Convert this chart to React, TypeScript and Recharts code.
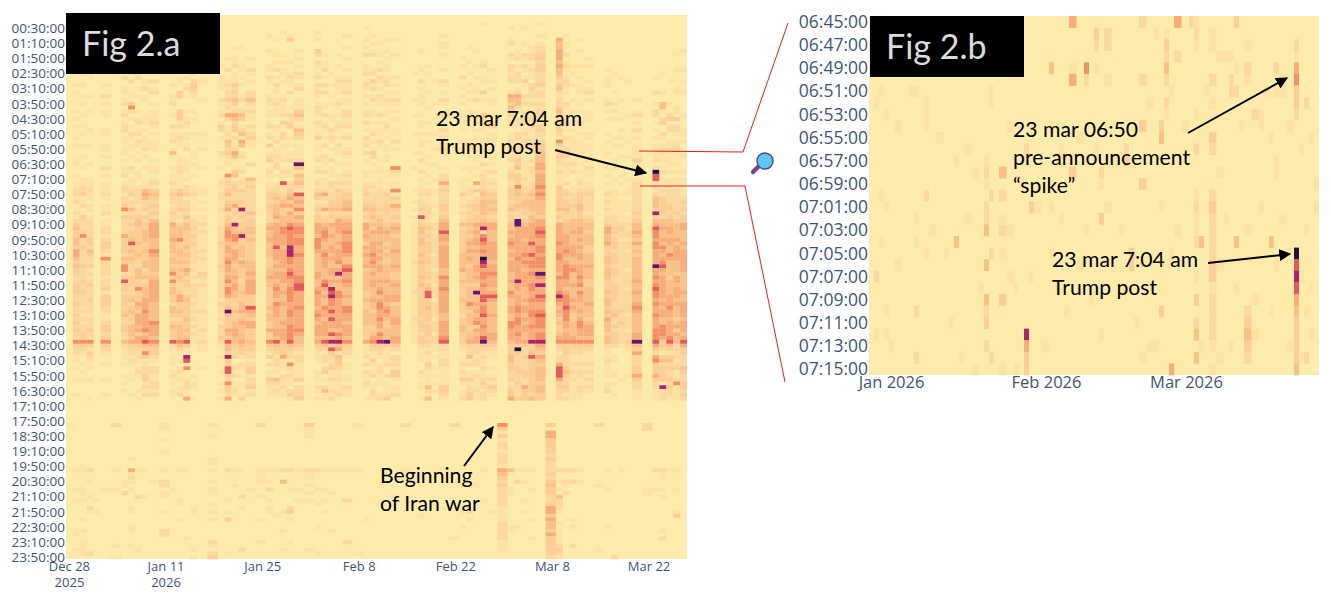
import { ScatterChart, Scatter, XAxis, YAxis, CartesianGrid } from 'recharts'

// digit = colour level, 0 is the pale background, a is the darkest cell
const levelColors = ['#fdebac', '#fce3a5', '#fbd89f', '#fbce97', '#f9c08b', '#f7ac7b', '#f38f66', '#e35a5a', '#a9236f', '#5e1674', '#1e1145']

// days since Dec 28 2025 that have a column (saturdays are missing)
const dayColumns = [
  0, 1, 2, 3, 4, 5, 7, 8, 9, 10, 11, 12, 14, 15, 16, 17, 18, 19, 21, 22, 23, 24, 25, 26,
  28, 29, 30, 31, 32, 33, 35, 36, 37, 38, 39, 40, 42, 43, 44, 45, 46, 47, 49, 50, 51, 52, 53, 54,
  56, 57, 58, 59, 60, 61, 63, 64, 65, 66, 67, 68, 70, 71, 72, 73, 74, 75, 77, 78, 79, 80, 81, 82,
  84, 85, 86, 87, 88, 89,
]

// rows 0-47, 00:00 to 07:50
const preMarket = [
  '', '000000000000 001000101000 010101001010 001100101122', '000000000100 010100100101 001001010010 010010011223', '000000000000 100010000100 010000100010 000100011121', '', '000000000001 011000100201 011000110011 010020101112',
  '', '000000000010 011020011012 012012201101 101011201221', '000000010010 001102001103 620101021011 010021011123', '000000001101 010120010100 010120120210 101001110122', '000000000100 010001120110 001110101112 010010001145', '000001000010 001002012001 011121010111 001011012134',
  '', '000000000010 010000100112 001002011201 410010112123', '000000001000 001001003300 033312012110 011122111134', '000000000100 010010120100 010121011012 001111010223', '000000000000 100102332100 010100010000 110100100112', '000000000000 000001000010 000000010001 000010000011',
  '', '000000000000 010011110021 012013201000 210010012112', '000000000001 002001212231 215201121432 321100623234', '000000001001 120111323243 125423302012 541013412332', '000000001000 011010100120 124301241540 120012012132', '000000000001 002101002242 121102123110 000200042322',
  '', '000001000100 011021000121 011012012030 123012101123', '000000100010 102010211012 111002101201 121220101223', '000010000010 101101000121 112031022011 011012107212', '000001300000 100121102000 102123001010 112012102234', '000000000101 010210120011 134201432011 112941434217',
  '', '000010100320 210120212101 221021013011 012012012124', '000000000010 112010202001 102012101020 021102011125', '000000000000 000100100101 001100212101 002011102212', '000000000010 010012111012 101012101021 100100112132', '000001001001 001012112011 022112012001 210101212123',
  '', '000100101020 011201210101 012020102120 201001101223', '000001010120 001203120120 011010120101 320101001212', '000000010010 102021010211 002010110210 001011011122', '000000100101 011012201021 011012101011 011001101013', '000000100010 000010101021 010100110201 000062101161',
  '', '000000000000 000100000010 001000010000 100010000010', '000000000100 001002010111 001011010110 102002010112', '000000000000 010100001000 100010010100 010100101022', '000000000000 000001000001 000100010001 000100010011', '000001011010 001002101021 012000211012 100010225232',
  '', '000000000001 010020010101 011010100101 000010011113', '000000001000 100100101010 012101000120 010011010122', '000000000100 010010011020 010010101010 011010105131', '001000000000 120011003010 003211100101 010201222234', '000000000000 001001010011 001022011100 010102012123',
  '', '000100120021 022122001543 432121011212 112012321233', '000000000112 010222012544 210211022122 223341333644', '000100010021 021013100212 011120121211 011111121223', '000000001122 012110232212 111212101222 102022112234', '001001012233 233222312212 122012321233 444554555656',
  '', '000000544555 454432342122 343223321622 232212111333', '000001011020 121012211002 101120102112 321211102023', '000000000000 010100100010 011010101111 101212000112', '000000100100 010010111001 010121010111 110101012123', '000000000001 010001012010 011100011011 011021101123',
  '', '000000000000 001011100012 010100010100 100010101012', '000000000000 000100001001 010100001010 001010010011', '000000000000 000010000010 000100101010 010000101001', '000000000000 000001000000 001000000100 010000010011', '000000000000 000000000010 012010201011 113110012222',
  '', '000000000000 000010002001 022010101011 11202a771212', '000000000000 000100001004 410230021012 111012011121', '000000000000 000001000001 002302200112 111101011122', '000000000010 001000011000 110302210112 100101011022', '000000000100 001001001000 001000110100 110001011011',
]

// rows 48-85, 08:00 to 14:10
const session = [
  '', '1201212343344 3554343322333 223223232322', '1120132223622 3222232223223 222121212233', '1011012222233 2432231212322 232221222322', '', '1011201122123 3216222212231 333221123323',
  '', '2236132222533 3324366237332 333234223322', '1224232323347 3434322233322 342343324443', '2212234433334 3343224443363 335435554535', '4223132334443 3433442342344 455565555645', '3232324555544 4654444345555 554444465554',
  '', '2212322544454 4434434636344 332443234333', '2223121344463 3443434343223 553343234444', '1223242443333 4343435423322 343333433434', '1011012232323 2222212121222 212121212121', '0101011212111 1212111321211 111121111211',
  '', '2112111122223 2222232222222 213221213223', '2345233456654 5545655456466 533494333543', '2352322844664 3555434454554 432343344554', '2328232334833 4443543332334 334453454444', '2222423344343 3333444545555 333754355333',
  '', '3233322454454 4443334454433 333434433533', '4344453555555 7555454554565 546555444554', '3453344466555 4555554555445 445444454555', '5353544676666 8886656765566 665566556666', '4546354566566 5565555566775 555655555654',
  '', '3123233555466 6544444554456 555456545554', '2125123456654 4565554446754 544655455554', '2334232544544 5545445545487 866575755474', '3334235555445 4555645845446 655555555465', '3445234556556 6654467556544 544665545554',
  '', '2234232554543 5454453444443 343344443332', '2234343435445 5565654545544 454434443345', '2223234455445 4545455445456 456655655465', '2233322345443 4343344445444 554565433444', '3253232454344 4544454334544 553444554445',
  '', '0101010111111 1111211111112 111111211111', '1223272344344 3343433343433 333333233323', '1122221232323 3323322332347 733433323332', '0110100221222 2212221222122 212222122212', '2233234557554 5555554465565 555554455556',
  '', '1121212423333 3344445334333 343332334433', '1232323434345 4545434444344 446434443344', '2233233545455 4544455454349 445454563545', '3444434582676 565a875665655 775667556557', '3434323554445 5555455655545 754445444455',
  '', '3234233445456 5454555445446 544554466555', '3343229955555 5556555558554 555665665565', '3443323455545 5565654555544 454554545544', '3444344555557 5575665655665 565566556555', '5444435567655 6656665965855 765567666566',
  '', '3334232555556 5566555465556 865454343345', '2334323444555 5654566665545 666766655455', '2232224445444 5554456444544 454543344445', '3344334455454 5455455565646 554454566554', '2222123443444 3344454443344 445444345554',
  '', '1212122355445 3334434443334 344343544434', '1111122233233 3233323322333 332234223233', '0111111232212 2222222222222 222232232222', '0111011212212 2122221222212 222221222122', '2222323445435 3434444445445 445654444455',
  '', '4443834576656 6555595565676 656556555666', '3333324454454 6545675455555 545455446665', '2233234455455 4465444434444 555655455556', '2222323444454 5555444355455 545444345354', '2323233554445 4555555444445 445555455545',
]

// rows 86-101, the opening band at 14:20 and the close down to 16:50
const afterOpen = [
  '', '6322110100100010', '6321001010100000', '6313210100100001', '', '6321001000100010',
  '', '4211101001010100', '5322121001100010', '5321210121000101', '7436311223312120', '6433210221122120',
  '', '7210111012110110', '6421010121101120', '7311870610122115', '1000000001011001', '2110000100000000',
  '', '2100100010010101', '7443833773263325', '4322201212011210', '5433102101011013', '4332212331223120',
  '', '6321302011321110', '7432122110421210', '4333511102212110', '7432216212110231', '4321221111302223',
  '', '5321110011102101', '7421220230102411', '8373212311211212', '8451433211211120', '6322101101102110',
  '', '5111202021121001', '6321131012011221', '8322101221110012', '9311112002011113', '5320222133101120',
  '', '1000000000000000', '3211110021011001', '3212113211114214', '2110100101010100', '7221122111113321',
  '', '3210012121310112', '5322412011312233', '5222122012111211', '9321211211232122', '4321100101213210',
  '', '4333443322312335', '53a3222332232213', '5322322233225333', '8334733333333324', '8543543444434433',
  '', '6321225777533222', '6333222343223212', '6322112121211111', '6322112122112211', '6321112121212100',
  '', '4211121111011200', '3200110011010010', '2100000000100000', '3210000001000000', '9435222335322111',
  '', '7532563335322111', '3321342333308222', '7431342322323221', '4221212311261111', '7533222432233232',
]

// rows 108-143, 18:00 to 23:50
const evening = [
  '100000000000', '000000000000 100001001000 000011000100', '000000000001 100001101000 010010011110', '000000000000 200100010021 000000000020', '000000000000 000000001001', '000000000000 000001000000',
  '200000000000 100001000000 000000001001', '000000000000 000110200000', '000000000100 512101000011 000110001000', '000000000000 100000020000 000000000100', '000000000000 100000010000', '000000000000 000100000000',
  '110010010000 100220110001 000022000000', '000000000000 000001000000', '000000000000 100000001100 010000000000', '000000000000 100000000000 000000100000', '000000000000 000000000011 000000000101', '',
  '100100000110 100101100101 010000021023', '', '000000000000 200000001001 030000000010', '000000000000 100010000000', '000000000000 100000020010 000000000200', '000000000000 000001000000',
  '200000000000 111100010000 010000010000', '000000000000 100102001011', '000000000000 100000000000 100000000000', '000000000000 200400000001 000010000100', '000000000000 200001000023 010000010000', '000000000000 100001001000',
  '311100000000 211010101000 000000000100', '000000000000 200001000100 000100000010', '000000000000 100001001001', '000000000000 100000100000 000010000000', '000000000000 100000000000', '000000000000 100000002000 000000020000',
  '100000000000 100000000000 000000000010', '000000000000 000000000000 010000000000', '', '000000000000 000000000100', '', '000000000000 000000010000',
  '200000000000 100000000000', '', '000000000000 000000000000 100000000000', '000000000000 000100000000', '', '000000000000 100000000010',
  '200000000000 000000000000 000000100000', '000000000000 000000000001 000100000000', '000000000000 000000000002 010000000000', '000000000000 000010000000', '000000000000 100000001000', '000000000000 000000000001',
  '631312212221 543232222211 112222211100', '000000000000 410001100000 000110000000', '000000000000 100200000000 000100000000', '000000000000 100100001001', '000000000000 100001000000 010000100000', '',
  '305533332322 232343322355 354435333332', '000000000000 200101042221 001011112321', '000000000000 200210200000', '000000000000 200200000000 010100002000', '000000000000 100100000000', '',
  '200000000000 000010000000 000000000100', '000000000000 100001000000 000100000000', '000000000000 000000000000 000000000002', '000000000000 100000000000', '', '',
  '220000000000 000001100000', '000000000000 200001000000', '000000000000 211001010000 000010200000', '000000000000 100000000000', '000000000000 100001000001 300000000000', '',
]

// the 06:45 to 07:15 one minute detail: [day, row, level]
const minuteCells = [
  [40, 0, 5], [61, 0, 5], [54, 0, 2], [73, 0, 3], [64, 0, 2], [65, 0, 1], [45, 1, 3], [45, 2, 2], [47, 1, 2], [47, 2, 2], [59, 1, 1], [59, 2, 3], [59, 3, 2], [65, 1, 2], [65, 2, 1], [57, 1, 1],
  [75, 2, 1], [85, 2, 2], [85, 3, 1], [68, 1, 1], [68, 2, 1], [70, 3, 1], [71, 3, 1], [61, 3, 2], [43, 4, 6], [36, 4, 4], [40, 4, 1], [45, 4, 1], [59, 4, 4], [85, 4, 5], [81, 4, 2], [75, 4, 2],
  [40, 5, 5], [34, 5, 4], [43, 5, 2], [47, 5, 1], [54, 5, 2], [59, 5, 2], [68, 5, 2], [72, 5, 2], [85, 5, 6], [6, 5, 2], [6, 6, 2], [41, 6, 1], [72, 6, 2], [73, 6, 2], [24, 6, 1], [85, 6, 3],
  [34, 7, 4], [6, 7, 1], [11, 7, 1], [59, 7, 2], [85, 7, 3], [87, 7, 2], [1, 7, 1], [68, 7, 1], [81, 6, 1], [54, 9, 3], [77, 8, 2], [85, 8, 2], [65, 8, 1], [58, 10, 4], [58, 9, 3], [62, 10, 3],
  [68, 10, 3], [68, 11, 2], [65, 11, 2], [51, 11, 2], [51, 12, 3], [31, 11, 2], [38, 11, 1], [80, 10, 1], [26, 13, 4], [40, 13, 3], [23, 13, 2], [46, 13, 2], [81, 13, 1], [54, 14, 3], [11, 15, 2], [24, 15, 2],
  [26, 15, 2], [68, 15, 2], [65, 15, 1], [2, 15, 1], [32, 16, 3], [36, 16, 1], [23, 16, 2], [65, 16, 2], [68, 16, 3], [46, 17, 3], [23, 17, 2], [9, 17, 1], [65, 17, 1], [68, 17, 2], [23, 18, 4], [26, 18, 2],
  [26, 17, 1], [68, 18, 2], [65, 18, 1], [17, 19, 4], [66, 19, 4], [65, 19, 2], [73, 19, 4], [80, 19, 4], [68, 19, 2], [9, 19, 1], [85, 20, 10], [85, 21, 7], [85, 22, 8], [85, 23, 7], [85, 24, 5], [85, 25, 4],
  [85, 26, 3], [85, 27, 3], [85, 28, 3], [85, 29, 3], [85, 30, 4], [52, 20, 3], [24, 20, 2], [26, 20, 1], [15, 20, 1], [68, 20, 2], [23, 21, 4], [52, 21, 3], [42, 21, 1], [68, 21, 3], [1, 22, 2], [68, 22, 3],
  [32, 22, 1], [65, 22, 1], [29, 23, 1], [68, 23, 1], [23, 24, 4], [26, 24, 3], [65, 24, 3], [68, 24, 2], [34, 24, 1], [9, 25, 2], [58, 25, 3], [23, 25, 2], [6, 25, 1], [75, 25, 2], [87, 25, 1], [68, 25, 2],
  [6, 26, 2], [23, 26, 3], [65, 26, 2], [68, 26, 2], [75, 26, 3], [16, 26, 1], [31, 27, 8], [31, 28, 5], [31, 29, 3], [31, 30, 3], [1, 27, 1], [3, 27, 1], [6, 27, 2], [65, 27, 4], [75, 27, 4], [75, 28, 3],
  [68, 27, 2], [68, 28, 1], [23, 28, 2], [60, 30, 5], [65, 29, 4], [9, 29, 2], [24, 29, 2], [75, 29, 2], [87, 29, 2], [29, 30, 1], [26, 30, 1], [68, 30, 1], [21, 30, 1], [54, 29, 1], [57, 28, 1], [72, 28, 1],
]

// the palest one minute cells, [day, row]
const minuteFaint = [
  [8, 6], [9, 6], [24, 7], [11, 8], [11, 9], [54, 5], [59, 8], [62, 4], [72, 3], [73, 4], [75, 5], [82, 5], [82, 6], [83, 3], [78, 8], [78, 9], [45, 11], [31, 12], [23, 12], [23, 14], [17, 12], [81, 12], [46, 14], [38, 12],
  [2, 6], [3, 8], [5, 9], [14, 10], [19, 11], [21, 13], [28, 9], [30, 14], [36, 9], [42, 10], [49, 12], [56, 7], [60, 6], [63, 9], [67, 6], [70, 13], [74, 9], [79, 6], [84, 9], [86, 11], [88, 10], [89, 14],
  [3, 16], [6, 17], [12, 18], [19, 17], [28, 18], [33, 16], [38, 17], [43, 18], [47, 16], [50, 18], [55, 17], [58, 16], [61, 18], [71, 17], [75, 18], [78, 16], [82, 17], [87, 18], [89, 16],
  [2, 19], [5, 21], [11, 20], [20, 21], [22, 23], [28, 22], [36, 20], [41, 23], [44, 24], [50, 23], [55, 22], [60, 20], [62, 22], [70, 21], [73, 23], [77, 24], [81, 21], [86, 22], [88, 23],
  [3, 25], [4, 28], [13, 27], [18, 29], [27, 26], [35, 28], [39, 25], [46, 27], [48, 29], [53, 26], [56, 28], [62, 27], [66, 28], [70, 29], [77, 27], [80, 25], [84, 28], [86, 29], [88, 27],
]

const hourTicks = ['00:30:00', '01:10:00', '01:50:00', '02:30:00', '03:10:00', '03:50:00', '04:30:00', '05:10:00', '05:50:00', '06:30:00', '07:10:00', '07:50:00', '08:30:00', '09:10:00', '09:50:00', '10:30:00', '11:10:00', '11:50:00', '12:30:00', '13:10:00', '13:50:00', '14:30:00', '15:10:00', '15:50:00', '16:30:00', '17:10:00', '17:50:00', '18:30:00', '19:10:00', '19:50:00', '20:30:00', '21:10:00', '21:50:00', '22:30:00', '23:10:00', '23:50:00']
const minuteTicks = ['06:45:00', '06:47:00', '06:49:00', '06:51:00', '06:53:00', '06:55:00', '06:57:00', '06:59:00', '07:01:00', '07:03:00', '07:05:00', '07:07:00', '07:09:00', '07:11:00', '07:13:00', '07:15:00']
const weekTicks = [[0, 'Dec 28', '2025'], [14, 'Jan 11', '2026'], [28, 'Jan 25', ''], [42, 'Feb 8', ''], [56, 'Feb 22', ''], [70, 'Mar 8', ''], [84, 'Mar 22', '']]
const monthTicks = [[4, 'Jan 2026', ''], [35, 'Feb 2026', ''], [63, 'Mar 2026', '']]

const TOTAL_DAYS = 90
const HOUR_ROWS = 144
const MINUTE_ROWS = 31
const TICK_COLOR = '#3f5578'
const FONT = '"Open Sans", sans-serif'
const NOTE_FONT = 'Lato, sans-serif'

function digits(s: string, len: number) {
  return s.replace(/ /g, '').padEnd(len, '0').slice(0, len)
}

function rowOf(label: string) {
  return Number(label.slice(0, 2)) * 60 + Number(label.slice(3, 5))
}

function edges(day: number) {
  const i = dayColumns.indexOf(day)
  const center = day + 0.5
  const left = i === 0 ? 0 : (dayColumns[i - 1] + 0.5 + center) / 2
  const right = i === dayColumns.length - 1 ? TOTAL_DAYS : (dayColumns[i + 1] + 0.5 + center) / 2
  return { center, left, right }
}

type Cell = { x: number; y: number; level: number; left: number; right: number }

function makeHourCells() {
  const cells: Cell[] = []
  dayColumns.forEach((day, i) => {
    const { center, left, right } = edges(day)
    const text = digits(preMarket[i], 48) + digits(session[i], 38) + digits(afterOpen[i], 16) + '000000' + digits(evening[i], 36)
    for (let r = 0; r < text.length; r++) {
      const level = parseInt(text[r], 36)
      if (level > 0) cells.push({ x: center, y: r + 0.5, level, left, right })
    }
  })
  return cells
}

function makeMinuteCells() {
  const faint = minuteFaint.map(([day, row]) => [day, row, 1])
  return [...faint, ...minuteCells].map(([day, row, level]) => {
    const { center, left, right } = edges(day)
    return { x: center, y: row + 0.5, level, left, right }
  })
}

const hourCells = makeHourCells()
const minCells = makeMinuteCells()

function heatCell(dayW: number, rowH: number) {
  return function HeatCell(props: any) {
    const { cx, cy, payload } = props
    return (
      <rect
        x={cx - (payload.x - payload.left) * dayW}
        y={cy - rowH / 2}
        width={(payload.right - payload.left) * dayW}
        height={rowH + 0.3}
        fill={levelColors[payload.level]}
      />
    )
  }
}

function dateTick(list: any[], size: number, lift: number) {
  return function DateTick({ x, y, payload }: any) {
    const t = list.find((d) => d[0] + 0.5 === payload.value)
    return (
      <text x={x} y={y + lift} textAnchor="middle" fontFamily={FONT} fontSize={size} fill={TICK_COLOR}>
        <tspan x={x}>{t ? t[1] : ''}</tspan>
        {t && t[2] ? <tspan x={x} dy={16}>{t[2]}</tspan> : null}
      </text>
    )
  }
}

function HourChart() {
  const width = 700
  const height = 602
  const plotW = 621
  const plotH = 544
  return (
    <div style={{ position: 'absolute', left: 0, top: 0 }}>
      <ScatterChart width={width} height={height} margin={{ top: 15, left: 0, right: 13, bottom: 0 }}>
        <CartesianGrid horizontal={false} vertical={false} fill={levelColors[0]} stroke="none" />
        <XAxis
          type="number"
          dataKey="x"
          domain={[0, TOTAL_DAYS]}
          ticks={weekTicks.map((t) => (t[0] as number) + 0.5)}
          interval={0}
          height={43}
          axisLine={false}
          tickLine={false}
          tick={dateTick(weekTicks, 13, 4)}
        />
        <YAxis
          type="number"
          dataKey="y"
          reversed
          domain={[0, HOUR_ROWS]}
          ticks={hourTicks.map((t) => rowOf(t) / 10 + 0.5)}
          interval={0}
          width={66}
          axisLine={false}
          tickLine={false}
          tickSize={1}
          tickMargin={0}
          tick={{ fill: TICK_COLOR, fontSize: 13.5, fontFamily: FONT }}
          tickFormatter={(v: number) => hourTicks.find((t) => rowOf(t) / 10 + 0.5 === v) || ''}
        />
        <Scatter data={hourCells} isAnimationActive={false} shape={heatCell(plotW / TOTAL_DAYS, plotH / HOUR_ROWS)} />
      </ScatterChart>
    </div>
  )
}

function MinuteChart() {
  const width = 530
  const height = 410
  const plotW = 450
  const plotH = 359
  return (
    <div style={{ position: 'absolute', left: 789, top: 0 }}>
      <ScatterChart width={width} height={height} margin={{ top: 16, left: 0, right: 0, bottom: 0 }}>
        <CartesianGrid horizontal={false} vertical={false} fill={levelColors[0]} stroke="none" />
        <XAxis
          type="number"
          dataKey="x"
          domain={[0, TOTAL_DAYS]}
          ticks={monthTicks.map((t) => (t[0] as number) + 0.5)}
          interval={0}
          height={35}
          axisLine={false}
          tickLine={false}
          tick={dateTick(monthTicks, 16.5, 5)}
        />
        <YAxis
          type="number"
          dataKey="y"
          reversed
          domain={[0, MINUTE_ROWS]}
          ticks={minuteTicks.map((t) => rowOf(t) - rowOf(minuteTicks[0]) + 0.5)}
          interval={0}
          width={80}
          axisLine={false}
          tickLine={false}
          tickSize={1}
          tickMargin={0}
          tick={{ fill: TICK_COLOR, fontSize: 17.5, fontFamily: FONT }}
          tickFormatter={(v: number) => minuteTicks.find((t) => rowOf(t) - rowOf(minuteTicks[0]) + 0.5 === v) || ''}
        />
        <Scatter data={minCells} isAnimationActive={false} shape={heatCell(plotW / TOTAL_DAYS, plotH / MINUTE_ROWS)} />
      </ScatterChart>
    </div>
  )
}

function Note({ x, y, lines }: { x: number; y: number; lines: string[] }) {
  return (
    <text x={x} y={y} fontFamily={NOTE_FONT} fontSize={21.2} fill="#000">
      {lines.map((l, i) => (
        <tspan key={l} x={x} dy={i === 0 ? 0 : 28}>{l}</tspan>
      ))}
    </text>
  )
}

function Overlay() {
  return (
    <svg width={1331} height={602} style={{ position: 'absolute', left: 0, top: 0, pointerEvents: 'none' }}>
      <defs>
        <marker id="head" markerWidth="6" markerHeight="6" refX="5.4" refY="3" orient="auto">
          <path d="M0,0 L6,3 L0,6 Z" fill="#000" />
        </marker>
      </defs>
      <rect x={66} y={13} width={154} height={61} fill="#000" />
      <text x={82} y={56} fontFamily={NOTE_FONT} fontSize={34} fill="#dcdcdc">Fig 2.a</text>
      <rect x={870} y={16} width={154} height={61} fill="#000" />
      <text x={886} y={59} fontFamily={NOTE_FONT} fontSize={34} fill="#dcdcdc">Fig 2.b</text>

      <g stroke="#ee1c1c" strokeWidth={1} fill="none">
        <path d="M639 151 L743 152 L788 23" />
        <path d="M640 186 L745 186 L785 382" />
      </g>

      <g>
        <line x1={753} y1={172} x2={759} y2={166} stroke="#7a3f96" strokeWidth={4.5} strokeLinecap="round" />
        <circle cx={765} cy={161} r={8} fill="#5cc8ee" stroke="#4a4a8c" strokeWidth={1.4} />
      </g>

      <g stroke="#000" strokeWidth={2} fill="none">
        <line x1={555} y1={150} x2={646} y2={173} markerEnd="url(#head)" />
        <line x1={464} y1={466} x2={493} y2={427} markerEnd="url(#head)" />
        <line x1={1188} y1={133} x2={1287} y2={78} markerEnd="url(#head)" />
        <line x1={1208} y1={263} x2={1290} y2={254} markerEnd="url(#head)" />
      </g>

      <Note x={436} y={126} lines={['23 mar 7:04 am', 'Trump post']} />
      <Note x={380} y={483} lines={['Beginning', 'of Iran war']} />
      <Note x={1013} y={137} lines={['23 mar 06:50', 'pre-announcement', '“spike”']} />
      <Note x={1052} y={267} lines={['23 mar 7:04 am', 'Trump post']} />
    </svg>
  )
}

export default function App() {
  return (
    <div style={{ position: 'absolute', left: 0, top: 0, width: 1331, height: 602, background: '#fff', overflow: 'hidden' }}>
      <HourChart />
      <MinuteChart />
      <Overlay />
    </div>
  )
}
